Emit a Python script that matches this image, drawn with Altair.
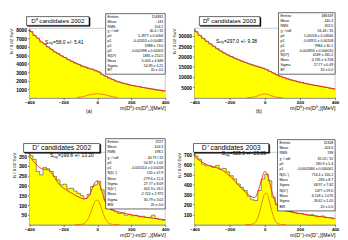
import altair as alt
import pandas as pd

FONT = "Liberation Sans"

BIN_EDGES = list(range(-400, 401, 20))
FIT_X = list(range(-400, 401, 20))

# ---------- (a) D0 candidates 2002 ----------
D0_2002_COUNTS = [7830, 7350, 7040, 6580, 6350, 5990, 5710, 5400, 5210, 4940,
                  4760, 4490, 4300, 4080, 3940, 3710, 3620, 3420, 3350, 3170,
                  3030, 2710, 2530, 2300, 2160, 1940, 1840, 1700, 1620, 1500,
                  1440, 1340, 1290, 1190, 1130, 1040, 990, 900, 860, 770]
D0_2002_FIT = [8000, 7600, 7200, 6820, 6480, 6160, 5860, 5570, 5300, 5060,
               4830, 4610, 4410, 4210, 4030, 3860, 3700, 3560, 3430, 3300,
               3150, 2910, 2650, 2430, 2230, 2060, 1910, 1780, 1670, 1560,
               1470, 1390, 1310, 1240, 1170, 1100, 1040, 980, 920, 860, 810]
D0_2002_GX = [-120, -100, -80, -60, -40, -20, 0, 20, 40, 60, 80, 100, 120]
D0_2002_GY = [25, 70, 150, 260, 360, 430, 450, 430, 360, 260, 150, 70, 25]
D0_2002_YTICKS = [1000, 2000, 3000, 4000, 5000, 6000, 7000, 8000]
D0_2002_STATS_L = ["Entries", "Mean", "RMS", "χ² / ndf", "p0", "p1", "p2", "p3",
                   "N(D⁰)", "Mass", "Sigma", "BT"]
D0_2002_STATS_V = ["154831", "-143", "204.1", "40.4 / 35", "5.2877 ± 0.0056",
                   "-0.02053 ± 0.00482", "5988 ± 13.0", "-0.002398 ± 0.00003",
                   "1881 ± 210.5", "-5.005 ± 4.848", "54.85 ± 4.21", "20 ± 0.0"]

# ---------- (b) D0 candidates 2003 ----------
D0_2003_COUNTS = [32000, 30200, 28700, 27300, 26100, 24900, 23700, 22600, 21600, 20700,
                  19900, 19100, 18400, 17700, 17050, 16400, 15850, 15300, 14800, 14300,
                  13600, 12700, 11900, 11000, 10300, 9700, 9100, 8600, 8150, 7700,
                  7300, 6900, 6550, 6200, 5900, 5600, 5300, 4950, 4650, 4300]
D0_2003_FIT = [33000, 31000, 29400, 28000, 26700, 25500, 24300, 23150, 22100, 21150,
               20300, 19500, 18750, 18050, 17380, 16720, 16120, 15570, 15050, 14550,
               13950, 13150, 12300, 11450, 10650, 10000, 9400, 8850, 8370, 7920,
               7500, 7100, 6720, 6380, 6050, 5750, 5450, 5130, 4800, 4480, 4150]
D0_2003_GX = [-100, -80, -60, -40, -20, 0, 20, 40, 60, 80, 100]
D0_2003_GY = [10, 80, 330, 850, 1500, 1800, 1500, 850, 330, 80, 10]
D0_2003_YTICKS = [5000, 10000, 15000, 20000, 25000, 30000]
D0_2003_STATS_L = ["Entries", "Mean", "RMS", "χ² / ndf", "p0", "p1", "p2", "p3",
                   "N(D⁰)", "Mass", "Sigma", "BT"]
D0_2003_STATS_V = ["486349", "-140.2", "203.5", "56.46 / 35", "5.05018 ± 0.04566",
                   "-0.03911 ± 0.00208", "9984 ± 30.1", "-0.002856 ± 0.000010",
                   "4169 ± 260.2", "0.195 ± 0.708", "27.77 ± 0.49", "20 ± 0.0"]

# ---------- D+ candidates 2002 ----------
DP_2002_COUNTS = [353, 333, 272, 255, 293, 286, 272, 247, 229, 203,
                  207, 183, 186, 172, 160, 148, 134, 155, 195, 203,
                  221, 178, 126, 97, 74, 66, 57, 60, 48, 52,
                  45, 48, 40, 43, 36, 38, 48, 31, 26, 22]
DP_2002_FIT = [349, 328, 308, 292, 284, 282, 275, 252, 224, 202,
               187, 176, 165, 155, 145, 137, 131, 136, 163, 206,
               225, 188, 132, 94, 79, 71, 66, 62, 58, 54,
               50, 47, 44, 41, 38, 36, 33, 31, 29, 27, 25]
DP_2002_GX = [-130, -100, -90, -80, -70, -60, -50, -40, -30, -20, -10, 0,
              10, 20, 30, 40, 50, 60, 70, 80, 90, 100, 130]
DP_2002_GY = [0, 0.7, 1.9, 4.7, 10.4, 20.7, 37, 59, 84, 107, 123, 125,
              115, 94, 69, 45, 26, 14, 6.5, 2.7, 1, 0.3, 0]
DP_2002_YTICKS = [50, 100, 150, 200, 250, 300, 350]
DP_2002_STATS_L = ["Entries", "Mean", "RMS", "χ² / ndf", "p0", "p1", "N(Dₛ⁺)", "Mass",
                   "Sigma", "N(D⁺)", "Mass", "Sigma", "BW"]
DP_2002_STATS_V = ["3727", "-104.3", "198.1", "40.79 / 32", "54.87 ± 1.02",
                   "-0.005514 ± 0.00018", "120 ± 47.9", "-279.6 ± 12.4", "27.77 ± 8.09",
                   "402.3 ± 26.5", "-2.702 ± 2.973", "30.79 ± 3.02", "20 ± 0.0"]

# ---------- D+ candidates 2003 ----------
DP_2003_COUNTS = [684, 651, 602, 585, 585, 569, 590, 553, 559, 526,
                  487, 454, 405, 372, 339, 283, 247, 240, 339, 454,
                  503, 437, 273, 197, 164, 141, 132, 125, 118, 109,
                  112, 102, 92, 99, 86, 82, 86, 72, 69, 59]
DP_2003_FIT = [680, 650, 625, 605, 590, 580, 570, 558, 540, 515,
               485, 450, 412, 375, 340, 307, 280, 268, 320, 440,
               530, 470, 330, 225, 175, 155, 143, 133, 125, 117,
               110, 104, 98, 93, 88, 83, 78, 74, 70, 66, 62]
DP_2003_GX = [-110, -90, -80, -70, -60, -50, -40, -30, -20, -10, 0,
              10, 20, 30, 40, 50, 60, 70, 80, 90, 100, 120]
DP_2003_GY = [0, 0.35, 1.3, 4.4, 12.6, 31, 66, 121, 192, 262, 308,
              312, 273, 206, 134, 76, 36, 15, 5.5, 1.7, 0.5, 0]
DP_2003_YTICKS = [100, 200, 300, 400, 500, 600, 700]
DP_2003_STATS_L = ["Entries", "Mean", "RMS", "χ² / ndf", "p0", "p1", "N(Dₛ⁺)", "Mass",
                   "Sigma", "N(D⁺)", "Mass", "Sigma", "BW"]
DP_2003_STATS_V = ["11308", "-103.6", "198", "35.05 / 32", "180.9 ± 5.4",
                   "-0.0002084 ± 0.000061", "716.4 ± 156.2", "-283 ± 8.7", "48.97 ± 7.82",
                   "1077 ± 59.0", "6.143 ± 1.076", "26.62 ± 1.05", "20 ± 0.0"]

ONE = pd.DataFrame({"k": [0]})


def rect(x1, y1, x2, y2, fill, stroke, sw):
    return alt.Chart(ONE).mark_rect(fill=fill, stroke=stroke, strokeWidth=sw).encode(
        x=alt.value(x1), x2=alt.value(x2), y=alt.value(y1), y2=alt.value(y2))


def text(x, y, t, size, align="left", baseline="middle", lh=None, weight="normal"):
    kw = dict(text=t, align=align, baseline=baseline, fontSize=size, font=FONT,
              color="black", fontWeight=weight)
    if lh is not None:
        kw["lineHeight"] = lh
    return alt.Chart(ONE).mark_text(**kw).encode(x=alt.value(x), y=alt.value(y))


def panel(counts, fit, gx, gy, ymax, yticks, xtitle, title, tbox, sbox,
          stats_l, stats_v, ssig, spos, w, h, title_size, caption=None, cpos=None):
    xs = alt.Scale(domain=[-400, 400], nice=False, zero=False)
    ys = alt.Scale(domain=[0, ymax], nice=False)
    xa = alt.Axis(values=[-400, -200, 0, 200, 400], title=xtitle, grid=False, format="d",
                  labelFontSize=4.5, labelFont=FONT, labelFontWeight="bold",
                  labelFlush=False, labelOverlap=False, labelPadding=0.5,
                  tickSize=2, tickWidth=0.5, tickColor="black",
                  domainColor="black", domainWidth=0.6, labelColor="black",
                  titleFontSize=5.5, titleFont=FONT, titleFontWeight="normal",
                  titleAnchor="end", titlePadding=1, titleColor="black")
    ya = alt.Axis(values=yticks, title="N / 0.02 GeV", grid=False, format="d",
                  labelFontSize=5, labelFont=FONT, labelFontWeight="bold",
                  labelPadding=1, labelColor="black", labelFlush=False,
                  tickSize=2, tickWidth=0.5, tickColor="black",
                  domainColor="black", domainWidth=0.6,
                  titleFontSize=4.5, titleFont=FONT, titleFontWeight="normal",
                  titleAnchor="end", titlePadding=2, titleColor="black")
    X = alt.X("x:Q", scale=xs, axis=xa)
    Y = alt.Y("y:Q", scale=ys, axis=ya)

    step = pd.DataFrame({"x": BIN_EDGES, "y": counts + [counts[-1]]})
    fitdf = pd.DataFrame({"x": FIT_X, "y": fit})
    gdf = pd.DataFrame({"x": gx, "y": gy})

    area = alt.Chart(step).mark_area(interpolate="step-after", color="#FFFF00").encode(x=X, y=Y)
    outline = alt.Chart(step).mark_line(interpolate="step-after", color="#222222",
                                        strokeWidth=0.5).encode(x=X, y=Y)
    fitl = alt.Chart(fitdf).mark_line(interpolate="monotone", color="#F02020",
                                      strokeWidth=0.9).encode(x=X, y=Y)
    gl = alt.Chart(gdf).mark_line(interpolate="monotone", color="#F07010",
                                  strokeWidth=0.9).encode(x=X, y=Y)

    tx1, ty1, tx2, ty2 = tbox
    sx1, sy1, sx2, sy2 = sbox
    n = len(stats_l)
    lh = (sy2 - sy1 - 2) / n
    layers = [area, outline, fitl, gl,
              rect(tx1 + 1, ty1 + 1, tx2 + 1, ty2 + 1, "black", "black", 0.5),
              rect(tx1, ty1, tx2, ty2, "white", "black", 0.6),
              text((tx1 + tx2) / 2, (ty1 + ty2) / 2 + 0.3, title, title_size, align="center"),
              rect(sx1, sy1, sx2, sy2, "white", "black", 0.6),
              text(sx1 + 2, sy1 + 1.2, stats_l, 3.6, baseline="top", lh=lh),
              text(sx2 - 2, sy1 + 1.2, stats_v, 3.6, align="right", baseline="top", lh=lh)]
    px, py = spos
    layers += [text(px, py, "S", 5),
               text(px + 3.4, py + 1.3, "sig", 3.4),
               text(px + 8.2, py, ssig, 5)]
    if caption:
        layers.append(text(cpos[0], cpos[1], caption, 5, align="center"))
    return alt.layer(*layers).properties(width=w, height=h)


LW, RW, TH, BH = 139, 144, 71, 74
LX, RX, TY, BY = 26, 195, 25, 152


def rel(box, ox, oy):
    return (box[0] - ox, box[1] - oy, box[2] - ox, box[3] - oy)


p1 = panel(D0_2002_COUNTS, D0_2002_FIT, D0_2002_GX, D0_2002_GY, 8200, D0_2002_YTICKS,
           "m(D⁰)-m(D⁰ₛ)[MeV]", "D⁰ candidates 2002",
           rel((23, 13, 87, 22), LX, TY), rel((104, 10, 165, 72), LX, TY),
           D0_2002_STATS_L, D0_2002_STATS_V, "=58.0 +/- 5.41", (42 - LX, 39 - TY),
           LW, TH, 6.3, "(a)", (87 - LX, 110 - TY))
p2 = panel(D0_2003_COUNTS, D0_2003_FIT, D0_2003_GX, D0_2003_GY, 33600, D0_2003_YTICKS,
           "m(D⁰)-m(D⁰ₛ)[MeV]", "D⁰ candidates 2003",
           rel((200, 13, 262, 22), RX, TY), rel((281, 9, 339, 72), RX, TY),
           D0_2003_STATS_L, D0_2003_STATS_V, "=297.0 +/- 9.38", (217 - RX, 38 - TY),
           RW, TH, 6.3, "(b)", (261 - RX, 110 - TY))
p3 = panel(DP_2002_COUNTS, DP_2002_FIT, DP_2002_GX, DP_2002_GY, 370, DP_2002_YTICKS,
           "m(D⁺)-m(D⁺ₛ)[MeV]", "D⁺ candidates 2002",
           rel((20, 143, 98, 152), LX, BY), rel((104, 138, 165, 210), LX, BY),
           DP_2002_STATS_L, DP_2002_STATS_V, "=199.8 +/- 13.20", (47 - LX, 155 - BY),
           LW, BH, 7)
p4 = panel(DP_2003_COUNTS, DP_2003_FIT, DP_2003_GX, DP_2003_GY, 720, DP_2003_YTICKS,
           "m(D⁺)-m(D⁺ₛ)[MeV]", "D⁺ candidates 2003",
           rel((194, 143, 271, 152), RX, BY), rel((280, 139, 339, 212), RX, BY),
           DP_2003_STATS_L, DP_2003_STATS_V, "=323.0 +/- 23.89", (223 - RX, 153 - BY),
           RW, BH, 7)

chart = alt.concat(p1, p2, p3, p4, columns=2, spacing={"row": 56, "column": 30},
                   bounds="flush", align="each").properties(
    padding={"left": 0, "top": 1, "right": 0, "bottom": 0}
).configure(font=FONT).configure_view(stroke="#999999", strokeWidth=0.5)

chart.save("out.html", embed_options={"renderer": "svg", "actions": False})
